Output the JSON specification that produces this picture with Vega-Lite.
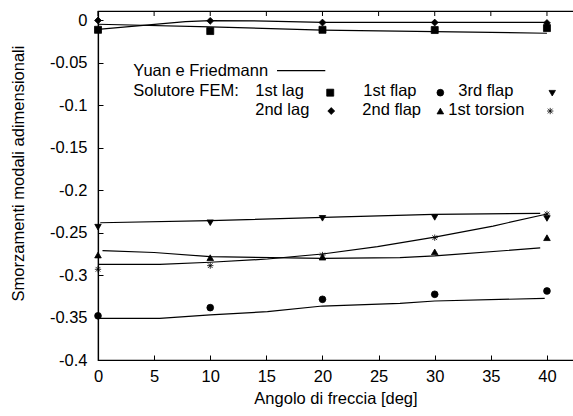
{
  "$schema": "https://vega.github.io/schema/vega-lite/v6.json",
  "width": 475,
  "height": 349,
  "autosize": "none",
  "padding": {"left": 98, "top": 11, "right": 0, "bottom": 56},
  "background": "white",
  "datasets": {
    "curves": [
      {"series": "1st lag", "x": 0, "y": -0.005},
      {"series": "1st lag", "x": 10, "y": -0.008},
      {"series": "1st lag", "x": 20, "y": -0.0118},
      {"series": "1st lag", "x": 30, "y": -0.0136},
      {"series": "1st lag", "x": 40, "y": -0.0156},
      {"series": "2nd lag", "x": 0, "y": -0.011},
      {"series": "2nd lag", "x": 7.8, "y": -0.002},
      {"series": "2nd lag", "x": 10, "y": -0.0008},
      {"series": "2nd lag", "x": 15, "y": -0.0012},
      {"series": "2nd lag", "x": 20, "y": -0.0027},
      {"series": "2nd lag", "x": 30, "y": -0.0027},
      {"series": "2nd lag", "x": 40, "y": -0.0027},
      {"series": "3rd flap", "x": 0.2, "y": -0.2385},
      {"series": "3rd flap", "x": 10, "y": -0.2361},
      {"series": "3rd flap", "x": 20.1, "y": -0.2322},
      {"series": "3rd flap", "x": 29.9, "y": -0.2286},
      {"series": "3rd flap", "x": 39.4, "y": -0.2275},
      {"series": "2nd flap", "x": 0.4, "y": -0.2714},
      {"series": "2nd flap", "x": 5, "y": -0.2735},
      {"series": "2nd flap", "x": 10, "y": -0.2784},
      {"series": "2nd flap", "x": 20, "y": -0.2804},
      {"series": "2nd flap", "x": 26.9, "y": -0.2795},
      {"series": "2nd flap", "x": 30, "y": -0.2776},
      {"series": "2nd flap", "x": 39.4, "y": -0.2682},
      {"series": "1st torsion", "x": 0, "y": -0.2874},
      {"series": "1st torsion", "x": 5.5, "y": -0.2874},
      {"series": "1st torsion", "x": 10, "y": -0.285},
      {"series": "1st torsion", "x": 15.1, "y": -0.2812},
      {"series": "1st torsion", "x": 20, "y": -0.2753},
      {"series": "1st torsion", "x": 24.9, "y": -0.2667},
      {"series": "1st torsion", "x": 30, "y": -0.2555},
      {"series": "1st torsion", "x": 35.2, "y": -0.2424},
      {"series": "1st torsion", "x": 40, "y": -0.2282},
      {"series": "1st flap", "x": 0, "y": -0.351},
      {"series": "1st flap", "x": 5.5, "y": -0.351},
      {"series": "1st flap", "x": 10, "y": -0.347},
      {"series": "1st flap", "x": 15.1, "y": -0.3431},
      {"series": "1st flap", "x": 20, "y": -0.3365},
      {"series": "1st flap", "x": 26.9, "y": -0.3333},
      {"series": "1st flap", "x": 30, "y": -0.3306},
      {"series": "1st flap", "x": 39.8, "y": -0.3275}
    ],
    "fem": [
      {"mode": "1st lag", "x": 0, "y": -0.0115},
      {"mode": "1st lag", "x": 10, "y": -0.013},
      {"mode": "1st lag", "x": 20, "y": -0.0115},
      {"mode": "1st lag", "x": 30, "y": -0.0118},
      {"mode": "1st lag", "x": 40, "y": -0.0095},
      {"mode": "2nd lag", "x": 0, "y": -0.0005},
      {"mode": "2nd lag", "x": 10, "y": -0.001},
      {"mode": "2nd lag", "x": 20, "y": -0.003},
      {"mode": "2nd lag", "x": 30, "y": -0.003},
      {"mode": "2nd lag", "x": 40, "y": -0.0035},
      {"mode": "1st flap", "x": 0, "y": -0.348},
      {"mode": "1st flap", "x": 10, "y": -0.3384},
      {"mode": "1st flap", "x": 20, "y": -0.3286},
      {"mode": "1st flap", "x": 30, "y": -0.3227},
      {"mode": "1st flap", "x": 40, "y": -0.3188},
      {"mode": "2nd flap", "x": 0, "y": -0.2765},
      {"mode": "2nd flap", "x": 10, "y": -0.2796},
      {"mode": "2nd flap", "x": 20, "y": -0.279},
      {"mode": "2nd flap", "x": 30, "y": -0.2729},
      {"mode": "2nd flap", "x": 40, "y": -0.2561},
      {"mode": "3rd flap", "x": 0, "y": -0.2437},
      {"mode": "3rd flap", "x": 10, "y": -0.2385},
      {"mode": "3rd flap", "x": 20, "y": -0.2333},
      {"mode": "3rd flap", "x": 30, "y": -0.2322},
      {"mode": "3rd flap", "x": 40, "y": -0.2335},
      {"mode": "1st torsion", "x": 0, "y": -0.2933},
      {"mode": "1st torsion", "x": 10, "y": -0.289},
      {"mode": "1st torsion", "x": 20, "y": -0.2765},
      {"mode": "1st torsion", "x": 30, "y": -0.2561},
      {"mode": "1st torsion", "x": 40, "y": -0.2282}
    ],
    "topTicks": [
      {"x": 0}, {"x": 5}, {"x": 10}, {"x": 15}, {"x": 20},
      {"x": 25}, {"x": 30}, {"x": 35}, {"x": 40}
    ],
    "keyText": [
      {"label": "Yuan e Friedmann", "x": 3.145, "y": -0.0596},
      {"label": "Solutore FEM:", "x": 3.145, "y": -0.0832},
      {"label": "1st lag", "x": 14.01, "y": -0.0832},
      {"label": "1st flap", "x": 23.64, "y": -0.0832},
      {"label": "3rd flap", "x": 32.1, "y": -0.0832},
      {"label": "2nd lag", "x": 14.01, "y": -0.1059},
      {"label": "2nd flap", "x": 23.55, "y": -0.1059},
      {"label": "1st torsion", "x": 31.21, "y": -0.1059}
    ],
    "keySymbols": [
      {"mode": "1st lag", "x": 20.69, "y": -0.0855},
      {"mode": "1st flap", "x": 30.5, "y": -0.0855},
      {"mode": "3rd flap", "x": 40.47, "y": -0.0861},
      {"mode": "2nd lag", "x": 20.78, "y": -0.1071},
      {"mode": "2nd flap", "x": 30.5, "y": -0.1071},
      {"mode": "1st torsion", "x": 40.29, "y": -0.1071}
    ],
    "keyLine": [
      {"x": 15.95, "x2": 20.25, "y": -0.0596}
    ]
  },
  "resolve": {"axis": {"x": "independent", "y": "independent"}},
  "layer": [
    {
      "data": {"name": "curves"},
      "mark": {"type": "line", "color": "black", "strokeWidth": 1.2},
      "encoding": {
        "x": {
          "field": "x", "type": "quantitative",
          "scale": {"domain": [0, 42.32], "nice": false, "zero": false},
          "axis": {
            "orient": "bottom",
            "values": [0, 5, 10, 15, 20, 25, 30, 35, 40],
            "tickSize": -5,
            "labelPadding": 13,
            "labelFlush": false,
            "title": "Angolo di freccia [deg]",
            "titlePadding": 6
          }
        },
        "y": {
          "field": "y", "type": "quantitative",
          "scale": {"domain": [-0.4, 0.0106], "nice": false, "zero": false},
          "axis": {
            "orient": "left",
            "values": [0, -0.05, -0.1, -0.15, -0.2, -0.25, -0.3, -0.35, -0.4],
            "tickSize": -5,
            "labelPadding": 16,
            "labelExpr": "'' + datum.value",
            "title": "Smorzamenti modali adimensionali",
            "titleAngle": 270,
            "titleX": -80,
            "titleY": 162,
            "titleAlign": "center",
            "titleBaseline": "middle"
          }
        },
        "detail": {"field": "series", "type": "nominal"}
      }
    },
    {
      "data": {"name": "topTicks"},
      "mark": {"type": "rule", "color": "black", "strokeWidth": 1},
      "encoding": {
        "x": {"field": "x", "type": "quantitative", "axis": null},
        "y": {"datum": 0.0106, "type": "quantitative", "axis": null},
        "y2": {"datum": 0.0047}
      }
    },
    {
      "data": {"name": "fem"},
      "mark": {"type": "point", "filled": true, "fill": "black", "stroke": "black", "opacity": 1},
      "encoding": {
        "x": {"field": "x", "type": "quantitative", "axis": null},
        "y": {"field": "y", "type": "quantitative", "axis": null},
        "shape": {
          "field": "mode", "type": "nominal", "legend": null,
          "scale": {
            "domain": ["1st lag", "2nd lag", "1st flap", "2nd flap", "3rd flap", "1st torsion"],
            "range": ["square", "diamond", "circle", "triangle-up", "triangle-down", "M-1,0L1,0M0,-1L0,1M-0.75,-0.75L0.75,0.75M-0.75,0.75L0.75,-0.75"]
          }
        },
        "size": {
          "field": "mode", "type": "ordinal", "legend": null,
          "scale": {
            "domain": ["1st lag", "2nd lag", "1st flap", "2nd flap", "3rd flap", "1st torsion"],
            "range": [49, 40, 38, 56, 56, 81]
          }
        },
        "strokeWidth": {
          "field": "mode", "type": "ordinal", "legend": null,
          "scale": {
            "domain": ["1st lag", "2nd lag", "1st flap", "2nd flap", "3rd flap", "1st torsion"],
            "range": [0.8, 0.8, 0.8, 0.8, 0.8, 1.2]
          }
        }
      }
    },
    {
      "data": {"name": "keySymbols"},
      "mark": {"type": "point", "filled": true, "fill": "black", "stroke": "black", "opacity": 1},
      "encoding": {
        "x": {"field": "x", "type": "quantitative", "axis": null},
        "y": {"field": "y", "type": "quantitative", "axis": null},
        "shape": {"field": "mode", "type": "nominal", "legend": null},
        "size": {"field": "mode", "type": "ordinal", "legend": null},
        "strokeWidth": {"field": "mode", "type": "ordinal", "legend": null}
      }
    },
    {
      "data": {"name": "keyText"},
      "mark": {"type": "text", "align": "left", "baseline": "middle", "fontSize": 16.5, "color": "black"},
      "encoding": {
        "x": {"field": "x", "type": "quantitative", "axis": null},
        "y": {"field": "y", "type": "quantitative", "axis": null},
        "text": {"field": "label"}
      }
    },
    {
      "data": {"name": "keyLine"},
      "mark": {"type": "rule", "color": "black", "strokeWidth": 1.2},
      "encoding": {
        "x": {"field": "x", "type": "quantitative", "axis": null},
        "x2": {"field": "x2"},
        "y": {"field": "y", "type": "quantitative", "axis": null}
      }
    }
  ],
  "config": {
    "view": {"stroke": "black", "strokeWidth": 1.2, "strokeDash": [475, 349, 824, 0]},
    "font": "Liberation Sans",
    "axis": {
      "grid": false,
      "domainColor": "black",
      "domainWidth": 1.2,
      "tickColor": "black",
      "tickWidth": 1,
      "labelColor": "black",
      "labelFontSize": 16.5,
      "labelOverlap": false,
      "titleColor": "black",
      "titleFontSize": 16.5,
      "titleFontWeight": "normal"
    }
  }
}
